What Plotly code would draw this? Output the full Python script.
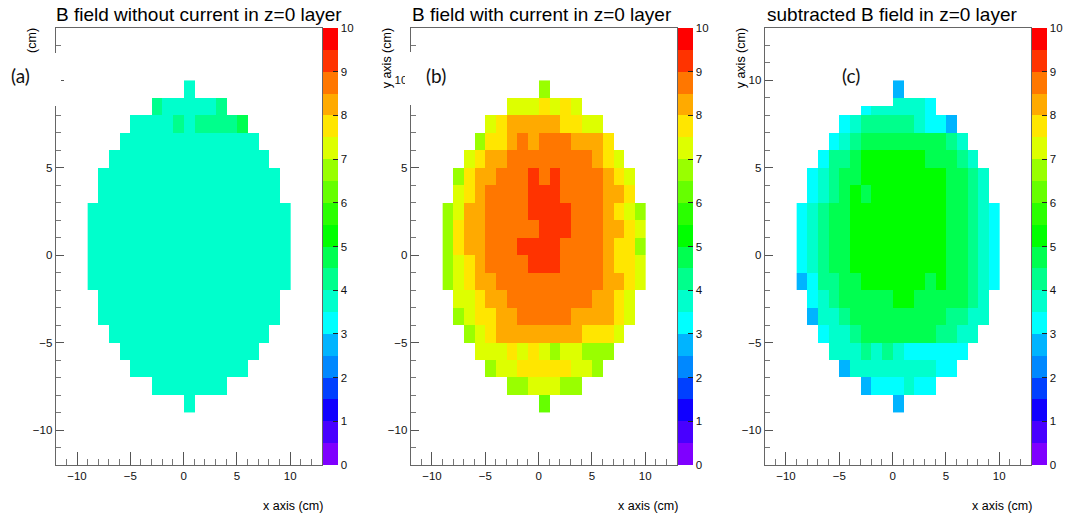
import plotly.graph_objects as go

_ = None

# bin centres (cm)
x_centers = [-8.5, -7.5, -6.5, -5.5, -4.5, -3.5, -2.5, -1.5, -0.5, 0.5,
             1.5, 2.5, 3.5, 4.5, 5.5, 6.5, 7.5, 8.5, 9.5]
y_centers = [9.5, 8.5, 7.5, 6.5, 5.5, 4.5, 3.5, 2.5, 1.5, 0.5,
             -0.5, -1.5, -2.5, -3.5, -4.5, -5.5, -6.5, -7.5, -8.5]

# B field without current (rows top -> bottom)
z_without = [
    [_,_,_,_,_,_,_,_,_,3.75,_,_,_,_,_,_,_,_,_],
    [_,_,_,_,_,_,4.25,3.75,3.75,3.75,3.75,3.75,4.25,_,_,_,_,_,_],
    [_,_,_,_,3.75,3.75,3.75,3.75,4.25,3.75,4.25,4.25,4.25,4.25,4.75,_,_,_,_],
    [_,_,_,3.75,3.75,3.75,3.75,3.75,3.75,3.75,3.75,3.75,3.75,3.75,3.75,3.75,_,_,_],
    [_,_,3.75,3.75,3.75,3.75,3.75,3.75,3.75,3.75,3.75,3.75,3.75,3.75,3.75,3.75,3.75,_,_],
    [_,3.75,3.75,3.75,3.75,3.75,3.75,3.75,3.75,3.75,3.75,3.75,3.75,3.75,3.75,3.75,3.75,3.75,_],
    [_,3.75,3.75,3.75,3.75,3.75,3.75,3.75,3.75,3.75,3.75,3.75,3.75,3.75,3.75,3.75,3.75,3.75,_],
    [3.75,3.75,3.75,3.75,3.75,3.75,3.75,3.75,3.75,3.75,3.75,3.75,3.75,3.75,3.75,3.75,3.75,3.75,3.75],
    [3.75,3.75,3.75,3.75,3.75,3.75,3.75,3.75,3.75,3.75,3.75,3.75,3.75,3.75,3.75,3.75,3.75,3.75,3.75],
    [3.75,3.75,3.75,3.75,3.75,3.75,3.75,3.75,3.75,3.75,3.75,3.75,3.75,3.75,3.75,3.75,3.75,3.75,3.75],
    [3.75,3.75,3.75,3.75,3.75,3.75,3.75,3.75,3.75,3.75,3.75,3.75,3.75,3.75,3.75,3.75,3.75,3.75,3.75],
    [3.75,3.75,3.75,3.75,3.75,3.75,3.75,3.75,3.75,3.75,3.75,3.75,3.75,3.75,3.75,3.75,3.75,3.75,3.75],
    [_,3.75,3.75,3.75,3.75,3.75,3.75,3.75,3.75,3.75,3.75,3.75,3.75,3.75,3.75,3.75,3.75,3.75,_],
    [_,3.75,3.75,3.75,3.75,3.75,3.75,3.75,3.75,3.75,3.75,3.75,3.75,3.75,3.75,3.75,3.75,3.75,_],
    [_,_,3.75,3.75,3.75,3.75,3.75,3.75,3.75,3.75,3.75,3.75,3.75,3.75,3.75,3.75,3.75,_,_],
    [_,_,_,3.75,3.75,3.75,3.75,3.75,3.75,3.75,3.75,3.75,3.75,3.75,3.75,3.75,_,_,_],
    [_,_,_,_,3.75,3.75,3.75,3.75,3.75,3.75,3.75,3.75,3.75,3.75,3.75,_,_,_,_],
    [_,_,_,_,_,_,3.75,3.75,3.75,3.75,3.75,3.75,3.75,_,_,_,_,_,_],
    [_,_,_,_,_,_,_,_,_,3.75,_,_,_,_,_,_,_,_,_],
]

# B field with current
z_with = [
    [_,_,_,_,_,_,_,_,_,6.75,_,_,_,_,_,_,_,_,_],
    [_,_,_,_,_,_,7.25,7.25,7.25,7.75,7.25,7.75,7.25,_,_,_,_,_,_],
    [_,_,_,_,7.25,7.75,8.25,8.25,8.25,8.25,8.25,7.75,7.75,7.25,7.25,_,_,_,_],
    [_,_,_,6.75,7.75,7.75,8.25,8.75,8.25,8.75,8.75,8.75,8.25,8.25,8.25,7.75,_,_,_],
    [_,_,7.25,7.75,8.25,8.25,8.75,8.75,8.75,8.75,8.75,8.75,8.75,8.75,8.25,7.75,7.25,_,_],
    [_,6.75,7.75,8.25,8.25,8.75,8.75,8.75,9.25,8.75,9.25,8.75,8.75,8.75,8.75,8.25,7.75,7.25,_],
    [_,7.25,7.75,8.25,8.75,8.75,8.75,8.75,9.25,9.25,9.25,8.75,8.75,8.75,8.75,8.25,8.25,7.75,_],
    [6.75,7.25,8.25,8.25,8.75,8.75,8.75,8.75,9.25,9.25,9.25,9.25,8.75,8.75,8.75,8.25,7.75,7.25,6.75],
    [6.75,7.75,8.25,8.25,8.75,8.75,8.75,8.75,8.75,9.25,9.25,9.25,8.75,8.75,8.75,8.25,8.25,7.75,7.25],
    [6.75,7.75,8.25,8.25,8.75,8.75,8.75,9.25,9.25,9.25,9.25,8.75,8.75,8.75,8.75,8.25,7.75,7.75,6.75],
    [6.75,7.25,7.75,8.25,8.75,8.75,8.75,8.75,9.25,9.25,9.25,8.75,8.75,8.75,8.75,8.25,7.75,7.75,7.25],
    [6.75,7.25,7.75,8.25,8.25,8.75,8.75,8.75,8.75,8.75,8.75,8.75,8.75,8.75,8.75,8.25,8.25,7.75,7.25],
    [_,7.25,7.25,7.75,8.25,8.25,8.75,8.75,8.75,8.75,8.75,8.75,8.75,8.75,8.25,8.25,7.75,7.25,_],
    [_,6.75,7.25,7.75,7.75,8.25,8.25,8.75,8.75,8.75,8.75,8.75,8.25,8.25,8.25,8.25,7.75,7.25,_],
    [_,_,6.75,7.25,7.75,8.25,8.25,8.25,8.25,8.25,8.25,8.25,8.25,7.75,7.75,7.75,7.25,_,_],
    [_,_,_,7.25,7.25,7.25,7.75,7.25,7.75,7.25,6.75,7.25,7.25,6.75,6.75,6.75,_,_,_],
    [_,_,_,_,6.75,7.25,7.25,7.75,7.75,7.75,7.75,7.75,7.25,7.25,6.75,_,_,_,_],
    [_,_,_,_,_,_,6.75,6.75,7.25,7.25,7.25,6.75,6.75,_,_,_,_,_,_],
    [_,_,_,_,_,_,_,_,_,6.25,_,_,_,_,_,_,_,_,_],
]

# subtracted B field
z_subtracted = [
    [_,_,_,_,_,_,_,_,_,2.75,_,_,_,_,_,_,_,_,_],
    [_,_,_,_,_,_,3.25,3.75,3.75,3.75,3.75,3.75,3.25,_,_,_,_,_,_],
    [_,_,_,_,3.25,3.75,4.25,4.25,4.25,4.25,4.25,3.75,3.25,3.25,2.75,_,_,_,_],
    [_,_,_,3.25,3.75,4.25,4.75,4.75,4.75,4.75,4.75,4.75,4.75,4.75,4.25,3.75,_,_,_],
    [_,_,3.25,4.25,4.25,4.75,5.25,5.25,5.25,5.25,5.25,5.25,4.75,4.75,4.75,4.25,3.75,_,_],
    [_,3.25,3.75,4.25,4.75,4.75,5.25,5.25,5.25,5.25,5.25,5.25,5.25,5.25,4.75,4.75,4.25,3.75,_],
    [_,3.25,3.75,4.25,4.75,5.25,4.75,5.25,5.25,5.25,5.25,5.25,5.25,5.25,4.75,4.75,4.25,3.75,_],
    [3.25,3.75,4.25,4.75,4.75,5.25,5.25,5.25,5.25,5.25,5.25,5.25,5.25,5.25,4.75,4.75,4.25,3.75,3.25],
    [3.25,3.75,4.25,4.75,4.75,5.25,5.25,5.25,5.25,5.25,5.25,5.25,5.25,5.25,4.75,4.75,4.25,3.75,3.25],
    [3.25,3.75,4.25,4.75,4.75,5.25,5.25,5.25,5.25,5.25,5.25,5.25,5.25,5.25,4.75,4.75,4.25,3.75,3.25],
    [3.25,3.75,4.25,4.75,4.75,5.25,5.25,5.25,5.25,5.25,5.25,5.25,5.25,5.25,4.75,4.75,4.25,3.75,3.25],
    [2.75,3.25,4.25,4.25,4.75,4.75,5.25,5.25,5.25,5.25,5.25,5.25,4.75,5.25,4.75,4.75,4.25,3.75,3.25],
    [_,3.25,3.75,4.25,4.75,4.75,4.75,4.75,4.75,5.25,5.25,4.75,4.75,4.75,4.75,4.75,4.25,3.75,_],
    [_,2.75,3.75,3.75,4.25,4.75,4.75,4.75,4.75,4.75,4.75,4.75,4.75,4.75,4.25,4.25,3.75,3.75,_],
    [_,_,3.25,3.75,3.75,4.25,4.75,4.75,4.75,4.75,4.75,4.75,4.75,4.25,4.25,3.75,3.75,_,_],
    [_,_,_,3.75,3.75,3.75,4.25,3.75,4.25,3.75,3.25,3.25,3.25,3.25,3.25,3.25,_,_,_],
    [_,_,_,_,2.75,3.75,3.75,3.75,3.75,3.75,3.75,3.75,3.75,3.25,3.25,_,_,_,_],
    [_,_,_,_,_,_,2.75,3.25,3.25,3.25,3.75,3.25,3.25,_,_,_,_,_,_],
    [_,_,_,_,_,_,_,_,_,2.75,_,_,_,_,_,_,_,_,_],
]

panel_titles = ["B field without current in z=0 layer",
                "B field with current in z=0 layer",
                "subtracted B field in z=0 layer"]
panel_labels = ["(a)", "(b)", "(c)"]
colorbar_ticks = [0, 1, 2, 3, 4, 5, 6, 7, 8, 9, 10]
level_colors = ["#7f00ff", "#4800ff", "#1000ff", "#0040ff", "#0088ff",
                "#00b4ff", "#00ffff", "#00ffcc", "#00ff8c", "#00ff50",
                "#00ff00", "#2aff00", "#66ff00", "#99ff00", "#ddff00",
                "#ffe600", "#ffaa00", "#ff7700", "#ff3300", "#ff0000"]

# ---------------------------------------------------------------
W, H = 1068, 516
FONT = "Liberation Sans, Arial, Helvetica, sans-serif"
n_lev = len(level_colors)
colorscale = []
for i, c in enumerate(level_colors):
    colorscale.append([i / n_lev, c])
    colorscale.append([(i + 1) / n_lev, c])

plot_left = [56, 413, 769]
plot_w = 268
plot_top, plot_bot = 28, 465
title_left = [55, 413, 770]

datasets = [z_without, z_with, z_subtracted]
fig = go.Figure()
layout = {}
annotations = []
for i, z in enumerate(datasets):
    n = "" if i == 0 else str(i + 1)
    fig.add_trace(go.Heatmap(
        x=x_centers, y=y_centers, z=z, coloraxis="coloraxis" + n,
        xaxis="x" + n, yaxis="y" + n, hoverongaps=False))
    l = plot_left[i]
    r = l + plot_w
    common = dict(range=[-12, 13], showgrid=False, zeroline=False,
                  showline=True, mirror=True, linecolor="#666", linewidth=1,
                  ticks="inside", tickcolor="#555", tickmode="linear",
                  tick0=0, dtick=5,
                  tickfont=dict(family=FONT, size=11.5, color="#111"))
    layout["xaxis" + n] = dict(common, domain=[l / W, r / W], anchor="y" + n,
                               ticklen=13,
                               minor=dict(dtick=1, ticks="inside", ticklen=6,
                                          tickcolor="#777"))
    layout["yaxis" + n] = dict(common, domain=[1 - plot_bot / H, 1 - plot_top / H],
                               anchor="x" + n, ticklen=8,
                               minor=dict(dtick=1, ticks="inside", ticklen=5,
                                          tickcolor="#777"))
    layout["coloraxis" + n] = dict(
        cmin=0, cmax=10, colorscale=colorscale,
        colorbar=dict(x=(r + 1) / W, xanchor="left", xpad=0, ypad=0,
                      y=1 - plot_bot / H, yanchor="bottom",
                      len=(plot_bot - plot_top) / H, lenmode="fraction",
                      thickness=15, thicknessmode="pixels", outlinewidth=0,
                      tickmode="array", tickvals=colorbar_ticks,
                      ticks="inside", ticklen=5, tickcolor="#222",
                      tickfont=dict(family=FONT, size=11.5, color="#111")))
    # title
    annotations.append(dict(text=panel_titles[i], x=title_left[i] / W,
                            y=1 - 14 / H, xref="paper", yref="paper",
                            xanchor="left", yanchor="middle", showarrow=False,
                            borderpad=0, align="left",
                            font=dict(family=FONT, size=19, color="#000")))
    # x axis title
    annotations.append(dict(text="x axis (cm)", x=(r + 2) / W, y=1 - 506 / H,
                            xref="paper", yref="paper", xanchor="right",
                            yanchor="middle", showarrow=False, borderpad=0,
                            font=dict(family=FONT, size=12.5, color="#000")))
    # y axis title
    annotations.append(dict(text="y axis (cm)", x=(l - 23.5) / W, y=1 - 27 / H,
                            xref="paper", yref="paper", xanchor="center",
                            yanchor="top", textangle=-90, showarrow=False,
                            borderpad=0,
                            font=dict(family=FONT, size=12.5, color="#000")))

# white label boxes pasted over the panels
label_boxes = [(0, 53, 61, 53), (407, 52, 68, 53), (830, 52, 67.7, 54)]
for (bx, by, bw, bh) in label_boxes:
    annotations.append(dict(text=" ", x=bx / W, y=1 - by / H, xref="paper",
                            yref="paper", xanchor="left", yanchor="top",
                            width=bw, height=bh, bgcolor="white",
                            borderpad=0, borderwidth=0, showarrow=False))
label_pos = [(20.5, 75), (438.5, 75), (855.5, 75)]
for (lx, ly), lab in zip(label_pos, panel_labels):
    annotations.append(dict(text=lab, x=lx / W, y=1 - ly / H, xref="paper",
                            yref="paper", xanchor="center", yanchor="middle",
                            showarrow=False,
                            font=dict(family="Lato, Open Sans, sans-serif",
                                      size=19, color="#111")))

fig.update_layout(**layout)
fig.update_layout(width=W, height=H, margin=dict(l=0, r=0, t=0, b=0),
                  paper_bgcolor="white", plot_bgcolor="white",
                  annotations=annotations, showlegend=False)
fig.write_html("out.html", config={"displayModeBar": False})
